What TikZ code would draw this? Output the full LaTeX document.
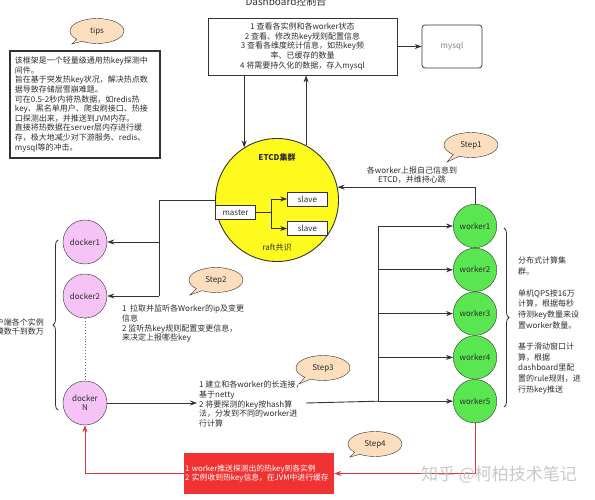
\documentclass[tikz,border=0pt]{standalone}
\usepackage{fontspec}
\setmainfont{Noto Sans CJK SC}
\usepackage{tikz}
\usetikzlibrary{arrows.meta,shapes.geometric,shapes.callouts}
\usetikzlibrary{positioning}
\usetikzlibrary{decorations.pathreplacing}
\definecolor{linegray}{RGB}{51,51,51}
\definecolor{textgray}{RGB}{45,45,45}
\definecolor{etcdyellow}{RGB}{255,250,30}
\definecolor{workergreen}{RGB}{90,230,80}
\definecolor{dockerpink}{RGB}{245,195,245}
\definecolor{bubblepeach}{RGB}{250,222,190}
\definecolor{hotred}{RGB}{240,50,50}
\definecolor{hotline}{RGB}{215,55,55}
\tikzset{
    conn/.style={draw=linegray, line width=0.9pt},
    arrowconn/.style={conn, -{Stealth[length=7pt,width=5pt]}},
    hotconn/.style={draw=hotline, line width=0.9pt, -{Stealth[length=7pt,width=5pt]}},
    docker/.style={circle, draw=linegray, fill=dockerpink, minimum size=44pt, inner sep=0pt, align=center, text=textgray},
    worker/.style={circle, draw=linegray, fill=workergreen, minimum size=43.5pt, inner sep=0pt, text=textgray},
    bubble/.style={ellipse callout, draw=linegray, fill=bubblepeach, minimum width=54pt, minimum height=25pt, inner sep=0pt, text=textgray},
    plainbox/.style={draw=linegray, line width=0.7pt, text=textgray},
    smallbox/.style={draw=linegray, line width=0.7pt, fill=white, minimum width=40pt, minimum height=14pt, inner sep=0pt, text=textgray},
    note/.style={align=left, inner sep=1pt, text=textgray},
    curly/.style={draw=linegray, line width=0.8pt, decorate, decoration={brace, amplitude=5pt}},
}

\begin{document}
\begin{tikzpicture}[x=1pt, y=-1pt, font=\fontsize{8}{9.6}\selectfont]
	\useasboundingbox (0,0) rectangle (595,500);
	% top: dashboard and storage
	\node[anchor=base, text=textgray, font=\fontsize{10}{12}\selectfont] (title) at (286,5.5) {Dashboard控制台};
	\node[plainbox, minimum width=189pt, minimum height=57pt, align=center, inner sep=2pt] (dash) at (302.5,46.5)
		{1 查看各实例和各worker状态\\2 查看、修改热key规则配置信息\\3 查看各维度统计信息，如热key频\\率、已缓存的数量\\4 将需要持久化的数据，存入mysql};
	\node[plainbox, rounded corners=3pt, minimum width=60pt, minimum height=43pt, text=gray] (mysql) at (452,46.5) {mysql};
	\node[bubble, callout absolute pointer={(72,44)}] (tips) at (97,31) {tips};
	\node[plainbox, line width=1.3pt, minimum width=150pt, minimum height=107pt, text width=140pt, align=left, inner sep=5pt] (tipsbox) at (85,104.5)
		{该框架是一个轻量级通用热key探测中\\间件。\\旨在基于突发热key状况，解决热点数\\据导致存储层雪崩难题。\\可在0.5-2秒内将热数据，如redis热\\key、黑名单用户、爬虫刷接口、热接\\口探测出来，并推送到JVM内存。\\直接将热数据在server层内存进行缓\\存，极大地减少对下游服务、redis、\\mysql等的冲击。};

	% etcd cluster
	\node[circle, draw=linegray, line width=0.9pt, fill=etcdyellow, minimum size=123pt, inner sep=0pt] (etcd) at (277,200) {};
	\node[text=textgray, font=\fontsize{8}{9.6}\selectfont\bfseries] (etcdlabel) at (277,157) {ETCD集群};
	\node[text=textgray] (raftlabel) at (277,248) {raft共识};
	\node[smallbox] (master) at (235.5,212.5) {master};
	\node[smallbox] (slave1) at (307.5,199) {slave};
	\node[smallbox] (slave2) at (307.5,228.5) {slave};
	\coordinate (split) at (271,212.5);

	% clients
	\node[docker] (docker1) at (85,242) {docker1};
	\node[docker] (docker2) at (85,296) {docker2};
	\node[docker] (dockerN) at (85,403) {docker\\N};
	\draw[curly] (58,410) -- (58,240);
	\node[note, anchor=east, align=right] (clientnote) at (45,327) {客户端各个实例\\规模数千到数万};

	% workers
	\foreach \i in {1,...,5}
		\node[worker] (worker\i) at (475,{226+43.8*(\i-1)}) {worker\i};
	\draw[curly] (504,228) -- (504,407);
	\node[note, anchor=north west, font=\fontsize{8}{10.7}\selectfont] (workernote) at (517,256)
		{分布式计算集\\群。\\[10.7pt]单机QPS按16万\\计算，根据每秒\\待测key数量来设\\置worker数量。\\[10.7pt]基于滑动窗口计\\算，根据\\dashboard里配\\置的rule规则，进\\行热key推送};

	% steps
	\node[bubble, callout absolute pointer={(447,162)}] (step1) at (471,145) {Step1};
	\node[note, align=center] (step1note) at (412,175) {各worker上报自己信息到\\ETCD，并维持心跳};
	\node[bubble, callout absolute pointer={(190,295)}] (step2) at (216,280) {Step2};
	\node[note, anchor=north west] (step2note) at (121,304)
		{1~ 拉取并监听各Worker的ip及变更\\信息\\2 监听热key规则配置变更信息，\\来决定上报哪些key};
	\node[bubble, callout absolute pointer={(299,384)}] (step3) at (323,368) {Step3};
	\node[note, anchor=west, inner sep=2pt] (step3note) at (197,404)
		{1 建立和各worker的长连接，\\基于netty\\2 将要探测的key按hash算\\法，分发到不同的worker进\\行计算};
	\node[bubble, callout absolute pointer={(350,457)}] (step4) at (375,444) {Step4};
	\node[fill=hotred, text=white, align=left, text width=148pt, inner sep=1pt, minimum height=41pt, font=\fontsize{7.8}{9.6}\selectfont] (hotbox) at (259,473.5)
		{1~worker推送探测出的热key到各实例\\2~实例收到热key信息，在JVM中进行缓存};

	% connectors
	\draw[arrowconn] (dash.east |- mysql.west) -- (mysql.west);
	\draw[arrowconn] (dash.south -| etcd.122) -- (etcd.122);
	\draw[arrowconn] (etcd.62) -- (etcd.62 |- dash.south);
	\draw[conn] (master.east) -- (split);
	\draw[arrowconn] (split) |- (slave1.west);
	\draw[arrowconn] (split) |- (slave2.west);
	\coordinate (lbus) at (159,200);
	\draw[conn] (etcd.west) -- (lbus) -- (lbus |- docker2.east);
	\draw[arrowconn] (lbus |- docker1.east) -- (docker1.east);
	\draw[arrowconn] (lbus |- docker2.east) -- (docker2.east);
	\draw[conn, dotted, linegray!70] (docker2.south) -- (dockerN.north);
	\draw[arrowconn] (worker1.north) |- (etcd.12);
	\coordinate (rbus) at (378,226);
	\draw[conn] (rbus |- worker1.west) -- (rbus |- worker5.west);
	\foreach \i in {1,...,5}
		\draw[arrowconn] (rbus |- worker\i.west) -- (worker\i.west);
	\draw[arrowconn] (dockerN.east) -- (step3note.west |- dockerN.east);
	\draw[conn] (step3note.east |- dockerN.east) -- (rbus |- worker5.west);
	\draw[hotconn] (worker5.south) |- (hotbox.east);
	\draw[hotconn] (hotbox.west) -| (dockerN.south);

	\node[text=gray!50, opacity=0.85, font=\fontsize{17}{17}\selectfont] (watermark) at (499,475) {知乎 @柯柏技术笔记};
\end{tikzpicture}
\end{document}
